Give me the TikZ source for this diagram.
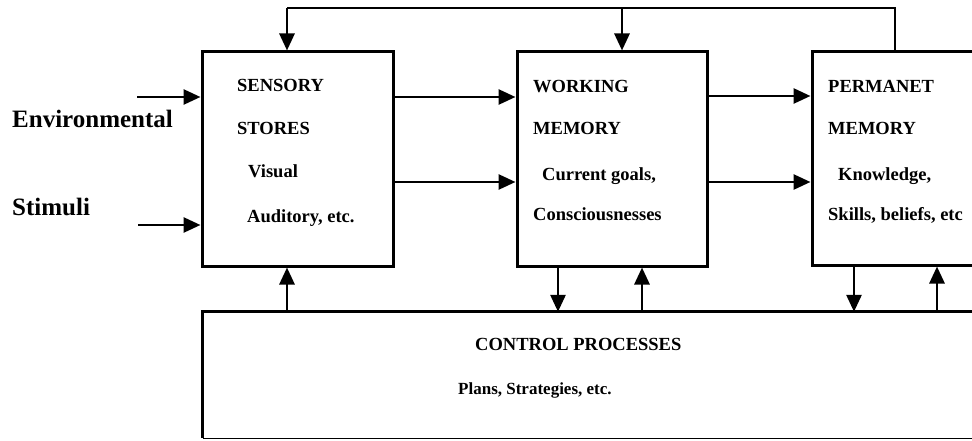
\documentclass[tikz,border=0pt]{standalone}
\usepackage{fontspec}
\setmainfont{Liberation Serif}
\usetikzlibrary{arrows.meta}
\begin{document}
\begin{tikzpicture}[x=1pt,y=-1pt,
  box/.style={draw, line width=3pt, rectangle, inner sep=0pt},
  lbl/.style={anchor=base west, inner sep=0pt, font=\fontsize{18.5}{21}\selectfont\bfseries},
  side/.style={anchor=base west, inner sep=0pt, font=\fontsize{25}{29}\selectfont\bfseries},
  conn/.style={line width=2.8pt, -{Triangle[length=17pt,width=15pt]}},
  fb/.style={line width=2.6pt}
]
\useasboundingbox (0,0) rectangle (972,441);
\clip (0,0) rectangle (972,441);
% boxes
\node[box, minimum width=191pt, minimum height=214pt] (sens) at (297.5,159) {};
\node[box, minimum width=190pt, minimum height=214pt] (work) at (612,159) {};
\node[box, minimum width=200pt, minimum height=213pt] (perm) at (912,158.5) {};
\node[draw=none, minimum width=797pt, minimum height=126pt, inner sep=0pt] (ctrl) at (601.5,375) {};
\draw[line width=3pt] (ctrl.south west) -- (ctrl.north west) -- (ctrl.north east);
\draw[line width=1.2pt] (ctrl.south west) -- (ctrl.south east);
% texts
\node[side] (env) at (12,128) {Environmental};
\node[side] (stim) at (12,215) {Stimuli};
\node[lbl] (s1) at (237,92) {SENSORY};
\node[lbl] (s2) at (237,135) {STORES};
\node[lbl] (s3) at (248,178) {Visual};
\node[lbl] (s4) at (247,222) {Auditory, etc.};
\node[lbl] (w1) at (533,93) {WORKING};
\node[lbl] (w2) at (533,135) {MEMORY};
\node[lbl] (w3) at (542,180) {Current goals,};
\node[lbl] (w4) at (533,220) {Consciousnesses};
\node[lbl] (p1) at (828,93) {PERMANET};
\node[lbl] (p2) at (828,135) {MEMORY};
\node[lbl] (p3) at (838,180) {Knowledge,};
\node[lbl] (p4) at (828,220) {Skills, beliefs, etc};
\node[anchor=base west, inner sep=0pt, font=\fontsize{18.5}{22}\selectfont\bfseries] (c1) at (475,350) {CONTROL PROCESSES};
\node[anchor=base west, inner sep=0pt, font=\fontsize{17}{20}\selectfont\bfseries] (c2) at (458,394) {Plans, Strategies, etc.};
% input arrows
\coordinate (in1) at (137,97);
\coordinate (in2) at (138,225);
\draw[conn] (in1) -- (in1 -| sens.west);
\draw[conn] (in2) -- (in2 -| sens.west);
% sensory -> working
\coordinate (a1) at (393,97);
\coordinate (a2) at (393,182);
\draw[conn] (a1 -| sens.east) -- (a1 -| work.west);
\draw[conn] (a2 -| sens.east) -- (a2 -| work.west);
% working -> permanent
\coordinate (b1) at (707,96);
\coordinate (b2) at (707,182);
\draw[conn] (b1 -| work.east) -- (b1 -| perm.west);
\draw[conn] (b2 -| work.east) -- (b2 -| perm.west);
% feedback loop on top
\coordinate (t0) at (895,52);
\coordinate (t1) at (895,8);
\coordinate (t2) at (287,8);
\coordinate (t3) at (622,8);
\draw[fb] (t0 |- perm.north) -- (t1) -- (t2);
\draw[conn] (t2) -- (t2 |- sens.north);
\draw[conn] (t3) -- (t3 |- work.north);
% vertical arrows with control
\coordinate (v1) at (287,312);
\coordinate (v2) at (558,312);
\coordinate (v3) at (642,312);
\coordinate (v4) at (854,312);
\coordinate (v5) at (937,312);
\draw[conn] (v1 |- ctrl.north) -- (v1 |- sens.south);
\draw[conn] (v2 |- work.south) -- (v2 |- ctrl.north);
\draw[conn] (v3 |- ctrl.north) -- (v3 |- work.south);
\draw[conn] (v4 |- perm.south) -- (v4 |- ctrl.north);
\draw[conn] (v5 |- ctrl.north) -- (v5 |- perm.south);
\end{tikzpicture}
\end{document}
